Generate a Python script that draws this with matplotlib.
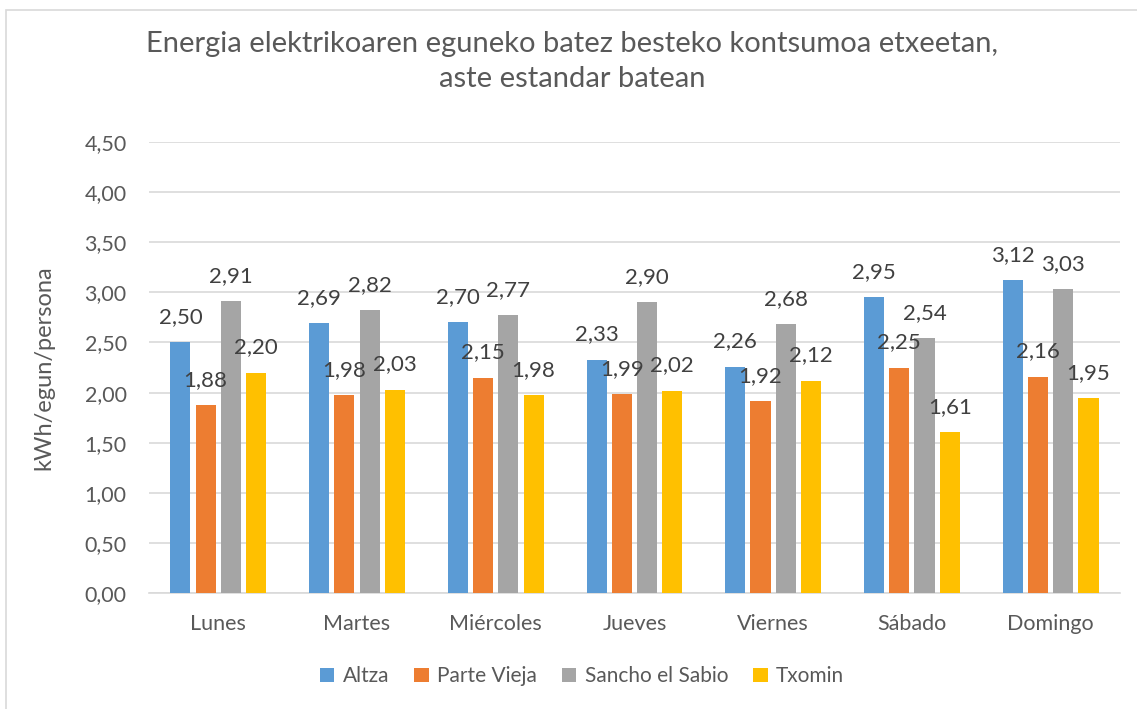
import matplotlib.pyplot as plt
import numpy as np

plt.rcParams['font.family'] = ['Lato', 'DejaVu Sans']

days = ['Lunes', 'Martes', 'Miércoles', 'Jueves', 'Viernes', 'Sábado', 'Domingo']
series = ['Altza', 'Parte Vieja', 'Sancho el Sabio', 'Txomin']
altza = [2.50, 2.69, 2.70, 2.33, 2.26, 2.95, 3.12]
parte_vieja = [1.88, 1.98, 2.15, 1.99, 1.92, 2.25, 2.16]
sancho = [2.91, 2.82, 2.77, 2.90, 2.68, 2.54, 3.03]
txomin = [2.20, 2.03, 1.98, 2.02, 2.12, 1.61, 1.95]
yticks = [0, 0.5, 1.0, 1.5, 2.0, 2.5, 3.0, 3.5, 4.0, 4.5]

colors = ['#5B9BD5', '#ED7D31', '#A5A5A5', '#FFC000']
values = [altza, parte_vieja, sancho, txomin]

fig = plt.figure(figsize=(11.37, 7.09), dpi=100)
ax = fig.add_axes([0.131, 0.1636, 0.854, 0.636])

# light frame round the chart like the spreadsheet export
frame = plt.Rectangle((6 / 1137, -0.01), 1.1, 1 - 10 / 709 + 0.01,
                      transform=fig.transFigure, fill=False,
                      edgecolor='#D9D9D9', linewidth=1.2)
fig.patches.append(frame)

x = np.arange(len(days))
step = 0.182
width = 0.145
for i, (name, vals, c) in enumerate(zip(series, values, colors)):
    pos = x + (i - 1.5) * step
    ax.bar(pos, vals, width, color=c, label=name, zorder=3)
    for px, v in zip(pos, vals):
        ax.annotate(f'{v:.2f}'.replace('.', ','), (px, v),
                    xytext=(0, 18), textcoords='offset points',
                    ha='center', va='center', fontsize=16, color='#404040',
                    zorder=6)

ax.set_xlim(-0.5, len(days) - 0.5)
ax.set_ylim(0, 4.5)
ax.set_yticks(yticks)
ax.set_yticklabels([f'{t:.2f}'.replace('.', ',') for t in yticks])
ax.set_xticks(x)
ax.set_xticklabels(days)
ax.tick_params(axis='both', length=0, labelsize=15.5, colors='#595959')
ax.tick_params(axis='x', pad=15)
ax.tick_params(axis='y', pad=16)
ax.grid(axis='y', color='#D9D9D9', linewidth=1.2, zorder=0)
for s in ['top', 'right', 'left']:
    ax.spines[s].set_visible(False)
ax.spines['bottom'].set_color('#D9D9D9')
ax.spines['bottom'].set_linewidth(1.2)

ax.set_ylabel('kWh/egun/persona', fontsize=17, color='#595959', labelpad=22)

fig.text(0.503, 0.913, 'Energia elektrikoaren eguneko batez besteko kontsumoa etxeetan,\naste estandar batean',
         ha='center', va='center', fontsize=21, color='#595959', linespacing=1.4)

ax.legend(loc='center', bbox_to_anchor=(0.446, -0.185), ncol=4, frameon=False,
          fontsize=15, labelcolor='#595959', handlelength=0.7, handleheight=0.7,
          handletextpad=0.4, columnspacing=1.2)

fig.savefig('out.png', dpi=100)
